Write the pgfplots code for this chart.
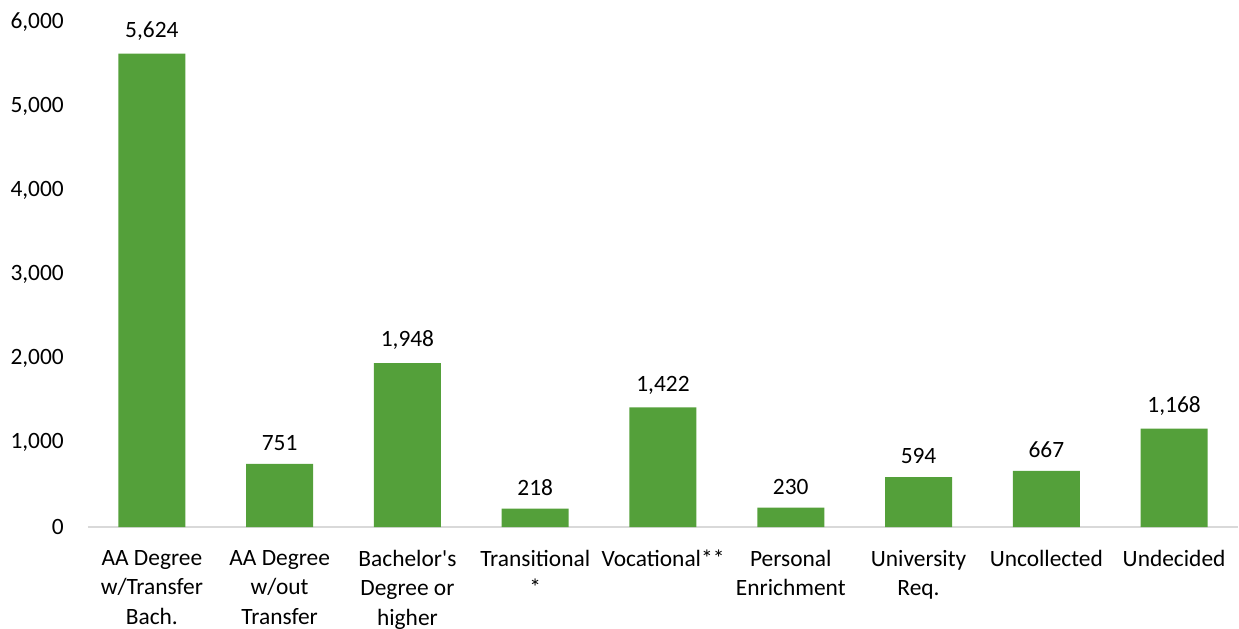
\documentclass[border=0pt]{standalone}
\usepackage{fontspec}
\setmainfont{Carlito}
\usepackage{pgfplots}
\pgfplotsset{compat=1.18}
\definecolor{bargreen}{RGB}{84,160,58}
\definecolor{axgray}{RGB}{217,217,217}
\begin{document}
\fontsize{11.7}{14.3}\selectfont
\begin{tikzpicture}
\begin{axis}[
  scale only axis,
  width=575pt, height=252.5pt,
  xmin=-0.5, xmax=8.5, ymin=0, ymax=6000,
  axis x line*=bottom, axis y line*=left,
  y axis line style={draw=none},
  x axis line style={draw=axgray, line width=1pt},
  major tick length=0pt,
  ytick={0,1000,...,6000},
  xtick={0,...,8},
  xticklabels={{AA Degree\\w/Transfer\\Bach.},{AA Degree\\w/out\\Transfer},{Bachelor\textquotesingle s\\Degree or\\higher},{Transitional\\*},{Vocational**},{Personal\\Enrichment},{University\\Req.},{Uncollected},{Undecided}},
  xticklabel style={align=center, anchor=north, yshift=-7.5pt, font=\fontsize{11.7}{14.7}\selectfont},
  yticklabel style={anchor=east, xshift=-8pt},
  /pgf/number format/.cd, 1000 sep={,}, assume math mode=true,
  /pgfplots/.cd,
  nodes near coords,
  nodes near coords style={font=\fontsize{11.7}{14.3}\selectfont, black, yshift=2.5pt},
  clip=false,
]
\addplot[ybar, bar width=33.5pt, fill=bargreen, draw=none] coordinates {
 (0,5624) (1,751) (2,1948) (3,218) (4,1422) (5,230) (6,594) (7,667) (8,1168)};
\coordinate (bl) at (rel axis cs:0,0);
\end{axis}
\pgfresetboundingbox
\useasboundingbox ([xshift=-44pt,yshift=-50.5pt]bl) rectangle ([xshift=575.5pt,yshift=263.5pt]bl);
\end{tikzpicture}
\end{document}
